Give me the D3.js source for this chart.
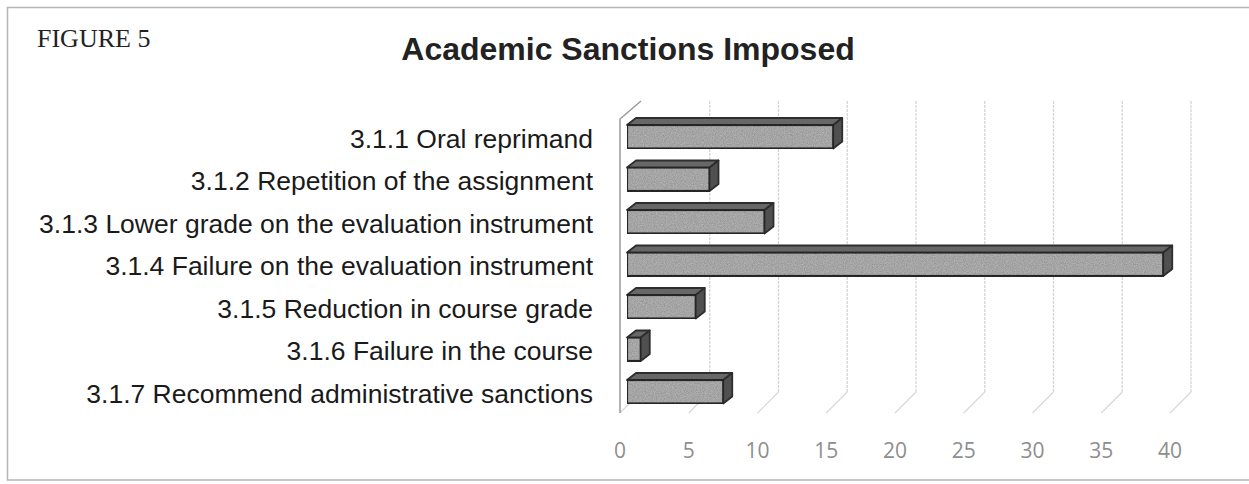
<!DOCTYPE html>
<html>
<head>
<meta charset="utf-8">
<script src="https://cdn.jsdelivr.net/npm/d3@7"></script>
<style>
  body { margin: 0; background: #fff; }
  svg { display: block; }
</style>
</head>
<body>
<script>
// DATA
var categories = [
    "3.1.1 Oral reprimand",
    "3.1.2 Repetition of the assignment",
    "3.1.3 Lower grade on the evaluation instrument",
    "3.1.4 Failure on the evaluation instrument",
    "3.1.5 Reduction in course grade",
    "3.1.6 Failure in the course",
    "3.1.7 Recommend administrative sanctions"
];
var counts = [15, 6, 10, 39, 5, 1, 7];
var tickValues = [0, 5, 10, 15, 20, 25, 30, 35, 40];

// SET DIMENSIONS OF CANVAS
var width = 1249,
    height = 484;

var svg = d3.select("body")
            .append("svg")
                .attr("width", width)
                .attr("height", height);

// SET RANGES
var x = d3.scaleLinear()
            .domain([0, 40])
            .range([627, 1177]);

var y = d3.scaleBand()
            .domain(categories)
            .range([115.5, 413])
            .paddingInner(0.447)
            .paddingOuter(0.2235);

// 3D offsets: wall depth and bar depth
var wall = {front: -7, back: 14, topF: 119, topB: 101, botF: 413, botB: 392};
var depth = {dx: 9, dy: -7};

// noise texture for the scanned look
var defs = svg.append("defs");
var f = defs.append("filter").attr("id", "grain")
    .attr("x", 0).attr("y", 0).attr("width", 1).attr("height", 1);
f.append("feTurbulence").attr("type", "fractalNoise")
    .attr("baseFrequency", 0.9).attr("numOctaves", 2).attr("result", "n");
f.append("feColorMatrix").attr("in", "n").attr("type", "matrix")
    .attr("values", "0 0 0 0 0  0 0 0 0 0  0 0 0 0 0  0 0 0 0.5 0").attr("result", "a");
f.append("feComposite").attr("in", "a").attr("in2", "SourceGraphic").attr("operator", "in").attr("result", "g");
var fm = f.append("feMerge");
fm.append("feMergeNode").attr("in", "SourceGraphic");
fm.append("feMergeNode").attr("in", "g");

// OUTER FRAME
svg.append("rect")
    .attr("x", 7.5).attr("y", 7.5)
    .attr("width", 1260).attr("height", 472.5)
    .attr("fill", "none")
    .attr("stroke", "#b5b5b5")
    .attr("stroke-width", 1.5);

// HEADINGS
svg.append("text")
    .attr("x", 37).attr("y", 47)
    .style("font-family", "'Liberation Serif', 'Times New Roman', serif")
    .style("font-size", "26px")
    .attr("fill", "#222")
    .text("FIGURE 5");

svg.append("text")
    .attr("x", 628).attr("y", 60)
    .attr("text-anchor", "middle")
    .style("font-family", "'Liberation Sans', Arial, sans-serif")
    .style("font-size", "32px")
    .style("font-weight", "bold")
    .attr("fill", "#222")
    .text("Academic Sanctions Imposed");

// GRIDLINES ON BACK WALL AND FLOOR
var grid = svg.append("g");
grid.selectAll(".gback")
    .data(tickValues.slice(1))
    .enter().append("line")
        .attr("x1", function(d) { return x(d) + wall.back; })
        .attr("x2", function(d) { return x(d) + wall.back; })
        .attr("y1", wall.topB)
        .attr("y2", wall.botB)
        .attr("stroke", "#d2d2d2")
        .attr("stroke-width", 1.2)
        .attr("stroke-dasharray", "3,1");

grid.selectAll(".gfloor")
    .data(tickValues)
    .enter().append("line")
        .attr("x1", function(d) { return x(d) + wall.back; })
        .attr("x2", function(d) { return x(d) + wall.front; })
        .attr("y1", wall.botB)
        .attr("y2", wall.botF)
        .attr("stroke", "#d8d8d8")
        .attr("stroke-width", 1.2);

// LEFT WALL
grid.append("path")
    .attr("d", "M" + (x(0) + wall.back) + "," + wall.topB +
               "L" + (x(0) + wall.front) + "," + wall.topF +
               "L" + (x(0) + wall.front) + "," + wall.botF)
    .attr("fill", "none")
    .attr("stroke", "#9a9a9a")
    .attr("stroke-width", 1.5);

// BARS
var bars = svg.selectAll(".bar")
    .data(counts)
    .enter().append("g")
        .attr("class", "bar");

bars.append("path")   // top face
    .attr("d", function(d, i) {
        var x0 = x(0), x1 = x(d), t = y(categories[i]);
        return "M" + x0 + "," + t + "L" + (x0 + depth.dx) + "," + (t + depth.dy) +
               "L" + (x1 + depth.dx) + "," + (t + depth.dy) + "L" + x1 + "," + t + "Z";
    })
    .attr("fill", "#676767")
    .attr("stroke", "#2e2e2e")
    .attr("stroke-width", 1.8)
    .attr("stroke-linejoin", "round");

bars.append("path")   // right face
    .attr("d", function(d, i) {
        var x1 = x(d), t = y(categories[i]), b = t + y.bandwidth();
        return "M" + x1 + "," + t + "L" + (x1 + depth.dx) + "," + (t + depth.dy) +
               "L" + (x1 + depth.dx) + "," + (b + depth.dy) + "L" + x1 + "," + b + "Z";
    })
    .attr("fill", "#505050")
    .attr("stroke", "#2e2e2e")
    .attr("stroke-width", 1.8)
    .attr("stroke-linejoin", "round");

bars.append("rect")   // front face
    .attr("x", x(0))
    .attr("y", function(d, i) { return y(categories[i]); })
    .attr("width", function(d) { return x(d) - x(0); })
    .attr("height", y.bandwidth())
    .attr("fill", "#bcbcbc")
    .attr("stroke", "#2e2e2e")
    .attr("stroke-width", 2.2)
    .attr("filter", "url(#grain)");

// CATEGORY LABELS
svg.selectAll(".cat")
    .data(categories)
    .enter().append("text")
        .attr("x", 593)
        .attr("y", function(d) { return y(d) + y.bandwidth() / 2 + 4; })
        .attr("text-anchor", "end")
        .attr("dominant-baseline", "middle")
        .style("font-family", "'Liberation Sans', Arial, sans-serif")
        .style("font-size", "26.5px")
        .attr("fill", "#1a1a1a")
        .text(function(d) { return d; });

// X AXIS LABELS
svg.selectAll(".tick-label")
    .data(tickValues)
    .enter().append("text")
        .attr("x", function(d) { return x(d) + wall.front; })
        .attr("y", 452)
        .attr("text-anchor", "middle")
        .attr("dominant-baseline", "middle")
        .style("font-family", "'Open Sans', Lato, sans-serif")
        .style("font-size", "21px")
        .attr("fill", "#8e8e8e")
        .text(function(d) { return d; });
</script>
</body>
</html>
